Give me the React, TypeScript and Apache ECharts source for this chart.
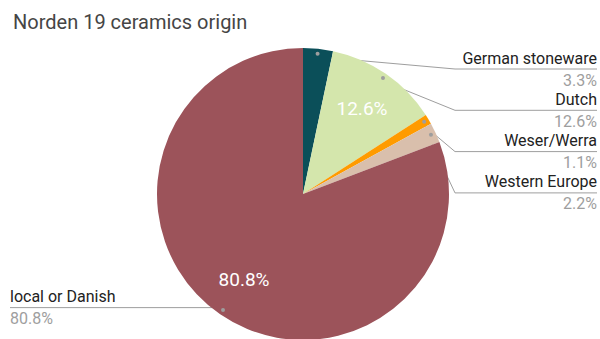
import React, { useEffect, useRef } from "react";
import * as echarts from "echarts";

const categories = ["German stoneware", "Dutch", "Weser/Werra", "Western Europe", "local or Danish"];
const values = [3.3, 12.6, 1.1, 2.2, 80.8];
const colors = ["#0b4f59", "#d4e6ac", "#ff9b00", "#d9bfac", "#9c535a"];
const titleText = "Norden 19 ceramics origin";

const CX = 303;
const CY = 194;
const R = 146;

const total = values.reduce((a, b) => a + b, 0);
let acc = 0;
const sides = values.map((v) => {
  const mid = (acc + v / 2) / total;
  acc += v;
  return mid < 0.5 ? "right" : "left";
});
const rightRank: number[] = [];
{
  let k = 0;
  sides.forEach((s, i) => {
    rightRank[i] = s === "right" ? k++ : -1;
  });
}

export default function App() {
  const ref = useRef<HTMLDivElement>(null);
  useEffect(() => {
    if (!ref.current) return;
    const chart = echarts.init(ref.current, undefined, { renderer: "svg" });
    const data = categories.map((name, i) => ({
      name,
      value: values[i],
      itemStyle: { color: colors[i] },
    }));
    chart.setOption({
      animation: false,
      title: {
        text: titleText,
        left: 8,
        top: 7,
        textStyle: { fontFamily: "Roboto", fontSize: 20, fontWeight: "normal", color: "#454545" },
      },
      series: [
        {
          type: "pie",
          center: [CX, CY],
          radius: [0, R],
          startAngle: 90,
          clockwise: true,
          avoidLabelOverlap: false,
          silent: true,
          itemStyle: { borderWidth: 0 },
          data,
          label: {
            show: true,
            position: "outside",
            fontFamily: "Roboto",
            formatter: (p: any) => `{name|${p.name}}\n{pct|${(p.value as number).toFixed(1)}%}`,
            rich: {
              name: { fontFamily: "Roboto", fontSize: 16, color: "#222222", lineHeight: 22 },
              pct: { fontFamily: "Roboto", fontSize: 16, color: "#9e9e9e", lineHeight: 22 },
            },
          },
          labelLine: { show: true, lineStyle: { color: "#9e9e9e", width: 1 } },
          labelLayout: (params: any) => {
            const i = params.dataIndex;
            const pts = params.labelLinePoints;
            if (!pts) return {};
            const p0 = pts[0];
            const dot = [CX + (p0[0] - CX) * 0.945, CY + (p0[1] - CY) * 0.945];
            if (sides[i] === "right") {
              const y = 69 + rightRank[i] * 41.3;
              return {
                x: 597,
                y,
                align: "right",
                verticalAlign: "middle",
                labelLinePoints: [dot, [455, y], [597, y]],
              };
            }
            const y = dot[1];
            return {
              x: 10,
              y,
              align: "left",
              verticalAlign: "middle",
              labelLinePoints: [dot, [dot[0] - 1, y], [10, y]],
            };
          },
        },
        {
          type: "pie",
          center: [CX, CY],
          radius: [56, R],
          startAngle: 90,
          silent: true,
          avoidLabelOverlap: false,
          itemStyle: { color: "transparent", borderWidth: 0 },
          data: categories.map((name, i) => ({ name, value: values[i] })),
          label: {
            show: true,
            position: "inside",
            rotate: 0,
            fontFamily: "Roboto",
            fontSize: 19,
            color: "#ffffff",
            formatter: (p: any) => ((p.value as number) >= 10 ? `${(p.value as number).toFixed(1)}%` : ""),
          },
          labelLine: { show: false },
        },
        {
          type: "pie",
          center: [CX, CY],
          radius: [130, R],
          startAngle: 90,
          silent: true,
          avoidLabelOverlap: false,
          itemStyle: { color: "transparent", borderWidth: 0 },
          data: categories.map((name, i) => ({ name, value: values[i] })),
          label: {
            show: true,
            position: "inside",
            rotate: 0,
            formatter: "{d|}",
            rich: { d: { width: 4, height: 4, borderRadius: 2, backgroundColor: "#9e9e9e" } },
          },
          labelLine: { show: false },
        },
      ],
    });
    return () => chart.dispose();
  }, []);
  return (
    <div
      ref={ref}
      style={{ position: "absolute", left: 0, top: 0, width: 600, height: 339, background: "#ffffff" }}
    />
  );
}
